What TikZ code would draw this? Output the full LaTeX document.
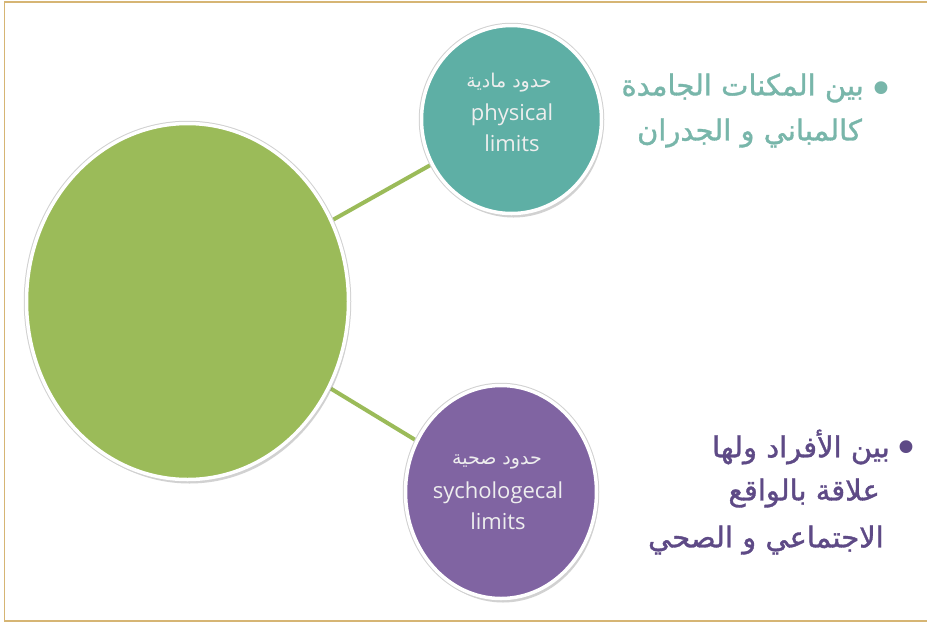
\documentclass[tikz,border=0pt]{standalone}
\usepackage{fontspec}
\TeXXeTstate=1
\newfontfamily\arabicfont[Script=Arabic,FakeBold=1.2]{DejaVu Sans}
\newfontfamily\arabicsmall[Script=Arabic]{DejaVu Sans}
\newfontfamily\latinfont{Open Sans}
\usetikzlibrary{shapes.geometric,shadows,backgrounds}
\definecolor{framegold}{HTML}{D6B574}
\definecolor{greenfill}{HTML}{9BBB59}
\definecolor{tealfill}{HTML}{5EAFA5}
\definecolor{purplefill}{HTML}{8064A2}
\definecolor{tealtext}{HTML}{78B6AA}
\definecolor{purpletext}{HTML}{5E4A86}
\definecolor{circletext}{HTML}{EEEEEE}
\tikzset{
  bubble/.style={ellipse, draw=white, line width=3.5pt, inner sep=0pt,
    drop shadow={shadow xshift=2pt, shadow yshift=-4pt, opacity=0.25, fill=black!70},
    preaction={draw=black!18, line width=5.5pt}},
  link/.style={draw=greenfill, line width=4pt},
  intext/.style={text=circletext, align=center, font=\latinfont\fontsize{22}{31}\selectfont, inner sep=0pt},
  sidetext/.style={anchor=east, inner sep=0pt, font=\arabicfont\fontsize{29}{34}\selectfont},
  bulletmark/.style={inner sep=0pt, font=\arabicsmall\fontsize{44}{44}\selectfont}
}
\begin{document}
\begin{tikzpicture}[x=1pt,y=-1pt]
\useasboundingbox (0,0) rectangle (927,625);

\node[bubble, fill=greenfill, minimum width=322pt, minimum height=356pt] (main) at (187.5,301.5) {};
\node[bubble, fill=tealfill, minimum width=180pt, minimum height=188pt] (phys) at (511.5,119.5) {};
\node[bubble, fill=purplefill, minimum width=191pt, minimum height=213pt] (psych) at (501,492) {};

\begin{scope}[on background layer]
\fill[white] (0,0) rectangle (927,625);
\draw[link] (main) -- (phys);
\draw[link] (main) -- (psych);
\end{scope}
\draw[framegold, line width=1.5pt] (927,2) -- (4.5,2) -- (4.5,621) -- (927,621);

\node[intext] (physar) at (509,83) {\arabicsmall\fontsize{19}{20}\selectfont\beginR حدود مادية\endR};
\node[intext] (physen) at (512,128) {physical\\limits};

\node[intext] (psychar) at (497,462) {\arabicsmall\fontsize{19}{20}\selectfont\beginR حدود صحية\endR};
\node[intext] (psychen) at (498,506) {sychologecal\\limits};

\node[sidetext, text=tealtext] (t1) at (864,88) {\beginR بين المكنات الجامدة\endR};
\node[sidetext, text=tealtext] (t2) at (862,133) {\beginR كالمباني و الجدران\endR};
\node[bulletmark, text=tealtext] (b1) at (881,93) {•};

\node[sidetext, text=purpletext] (p1) at (890,447) {\beginR بين الأفراد ولها\endR};
\node[sidetext, text=purpletext] (p2) at (880,493) {\beginR علاقة بالواقع\endR};
\node[sidetext, text=purpletext] (p3) at (884,540) {\beginR الاجتماعي و الصحي\endR};
\node[bulletmark, text=purpletext] (b2) at (906,452) {•};
\end{tikzpicture}
\end{document}
